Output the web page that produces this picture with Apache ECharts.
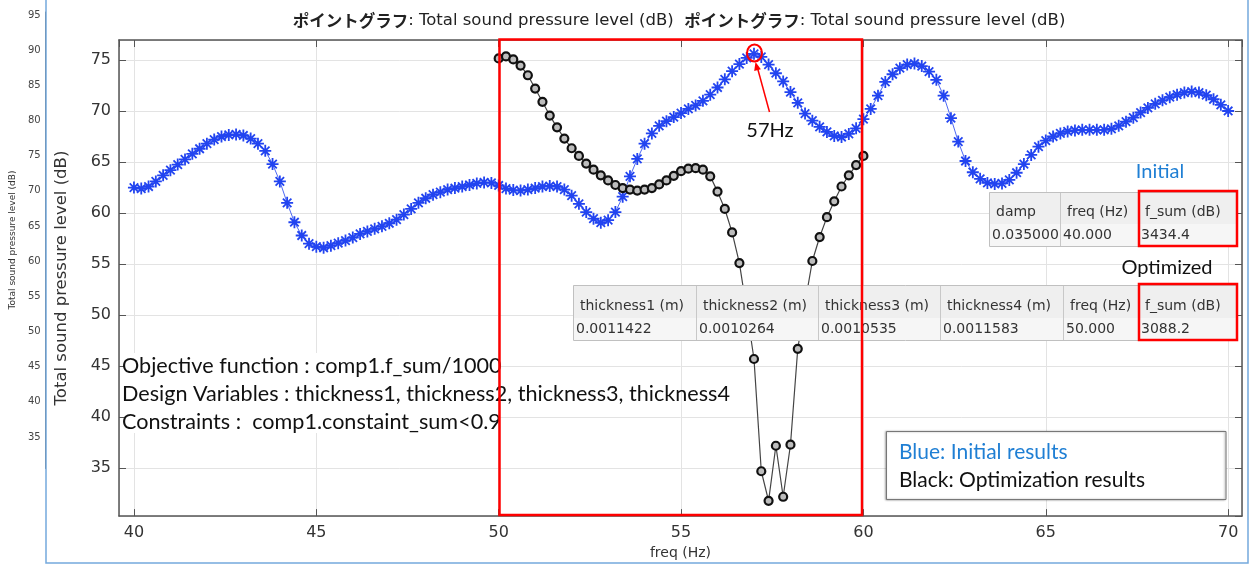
<!DOCTYPE html>
<html><head><meta charset="utf-8">
<script src="https://cdn.jsdelivr.net/npm/echarts@6/dist/echarts.min.js"></script>
<style>html,body{margin:0;padding:0;background:#fff}#c{width:1251px;height:565px}</style>
</head><body><div id="c"></div>
<script>
// ---------------- DATA ----------------
const blueFreq = [
40.0,40.2,40.4,40.6,40.8,41.0,41.2,41.4,41.6,41.8,
42.0,42.2,42.4,42.6,42.8,43.0,43.2,43.4,43.6,43.8,
44.0,44.2,44.4,44.6,44.8,45.0,45.2,45.4,45.6,45.8,
46.0,46.2,46.4,46.6,46.8,47.0,47.2,47.4,47.6,47.8,
48.0,48.2,48.4,48.6,48.8,49.0,49.2,49.4,49.6,49.8,
50.0,50.2,50.4,50.6,50.8,51.0,51.2,51.4,51.6,51.8,
52.0,52.2,52.4,52.6,52.8,53.0,53.2,53.4,53.6,53.8,
54.0,54.2,54.4,54.6,54.8,55.0,55.2,55.4,55.6,55.8,
56.0,56.2,56.4,56.6,56.8,57.0,57.2,57.4,57.6,57.8,
58.0,58.2,58.4,58.6,58.8,59.0,59.2,59.4,59.6,59.8,
60.0,60.2,60.4,60.6,60.8,61.0,61.2,61.4,61.6,61.8,
62.0,62.2,62.4,62.6,62.8,63.0,63.2,63.4,63.6,63.8,
64.0,64.2,64.4,64.6,64.8,65.0,65.2,65.4,65.6,65.8,
66.0,66.2,66.4,66.6,66.8,67.0,67.2,67.4,67.6,67.8,
68.0,68.2,68.4,68.6,68.8,69.0,69.2,69.4,69.6,69.8,
70.0];
const blueLevel = [
62.5,62.4,62.6,63.1,63.7,64.2,64.75,65.25,65.8,66.3,
66.8,67.2,67.5,67.65,67.7,67.6,67.3,66.8,66.1,64.8,
63.1,61.0,59.1,57.8,57.0,56.7,56.6,56.8,57.05,57.3,
57.6,57.95,58.2,58.45,58.7,59.0,59.35,59.85,60.4,61.0,
61.45,61.8,62.05,62.3,62.45,62.6,62.75,62.9,63.0,62.95,
62.7,62.4,62.25,62.2,62.3,62.45,62.6,62.65,62.6,62.3,
61.7,60.9,60.1,59.45,59.05,59.3,60.1,61.6,63.6,65.3,
66.8,67.8,68.55,69.0,69.4,69.8,70.2,70.55,71.0,71.6,
72.3,73.1,73.9,74.6,75.2,75.6,75.3,74.55,73.7,72.9,
71.85,70.8,69.75,69.05,68.45,67.95,67.55,67.45,67.75,68.3,
69.2,70.2,71.5,72.85,73.6,74.2,74.55,74.65,74.4,73.85,
73.05,71.5,69.3,67.0,65.1,64.0,63.35,62.95,62.85,62.9,
63.25,63.95,64.8,65.7,66.5,67.1,67.5,67.8,68.0,68.1,
68.15,68.15,68.15,68.15,68.25,68.55,68.95,69.35,69.85,70.3,
70.7,71.05,71.35,71.6,71.8,71.9,71.8,71.55,71.15,70.6,
70.0];
const optFreq = [
50.0,50.2,50.4,50.6,50.8,51.0,51.2,51.4,51.6,51.8,
52.0,52.2,52.4,52.6,52.8,53.0,53.2,53.4,53.6,53.8,
54.0,54.2,54.4,54.6,54.8,55.0,55.2,55.4,55.6,55.8,
56.0,56.2,56.4,56.6,56.8,57.0,57.2,57.4,57.6,57.8,
58.0,58.2,58.4,58.6,58.8,59.0,59.2,59.4,59.6,59.8,
60.0];
const optLevel = [
75.15,75.35,75.05,74.45,73.5,72.2,70.9,69.55,68.4,67.3,
66.35,65.6,64.85,64.25,63.7,63.2,62.75,62.45,62.3,62.2,
62.3,62.45,62.8,63.2,63.65,64.1,64.35,64.4,64.25,63.6,
62.1,60.4,58.1,55.1,50.5,45.7,34.7,31.8,37.2,32.2,
37.3,46.7,51.2,55.3,57.65,59.6,61.15,62.6,63.7,64.7,
65.6];
const initHeaders = ['damp', 'freq (Hz)', 'f_sum (dB)'];
const initValues  = ['0.035000', '40.000', '3434.4'];
const optHeaders  = ['thickness1 (m)', 'thickness2 (m)', 'thickness3 (m)', 'thickness4 (m)', 'freq (Hz)', 'f_sum (dB)'];
const optValues   = ['0.0011422', '0.0010264', '0.0010535', '0.0011583', '50.000', '3088.2'];
const noteLines = [
  'Objective function : comp1.f_sum/1000',
  'Design Variables : thickness1, thickness2, thickness3, thickness4',
  'Constraints :  comp1.constaint_sum<0.9'
];
const legendLines = ['Blue: Initial results', 'Black: Optimization results'];
const titleText = '{j|ポイントグラフ}: Total sound pressure level (dB)  {j|ポイントグラフ}: Total sound pressure level (dB)';
const yName = 'Total sound pressure level (dB)';
const xName = 'freq (Hz)';

// ---------------- STYLE ----------------
const FONT = '"DejaVu Sans", "Noto Sans CJK JP", sans-serif';
const CAL = 'Lato, "Open Sans", sans-serif';
const BLUE = '#2244f0';
const OFFICE_BLUE = '#1f7fd4';
const RED = '#ff0000';
const ASTER = 'path://M-1.5,-10L1.5,-10L1.5,10L-1.5,10Z M10,-1.5L10,1.5L-10,1.5L-10,-1.5Z M6.01,-8.13L8.13,-6.01L-6.01,8.13L-8.13,6.01Z M-8.13,-6.01L-6.01,-8.13L8.13,6.01L6.01,8.13Z';

function table(x, y, widths, headers, values, hH, vH, z) {
  const els = [];
  const total = widths.reduce((a, b) => a + b, 0);
  els.push({type:'rect', z:z, shape:{x:x, y:y, width:total, height:hH}, style:{fill:'#efefef'}});
  els.push({type:'rect', z:z, shape:{x:x, y:y+hH, width:total, height:vH}, style:{fill:'#f6f6f6'}});
  let cx = x;
  widths.forEach((w, i) => {
    if (i > 0) els.push({type:'line', z:z+1, shape:{x1:cx+0.5, y1:y, x2:cx+0.5, y2:y+hH+vH}, style:{stroke:'#c8c8c8', lineWidth:1}});
    els.push({type:'text', z:z+2, x:cx+7, y:y+hH-12, style:{text:headers[i], fill:'#333', fontSize:14, fontFamily:FONT, verticalAlign:'middle', align:'left'}});
    els.push({type:'text', z:z+2, x:cx+3, y:y+hH+11, style:{text:values[i], fill:'#333', fontSize:14, fontFamily:FONT, verticalAlign:'middle', align:'left'}});
    cx += w;
  });
  els.push({type:'rect', z:z+1, shape:{x:x+0.5, y:y+0.5, width:total, height:hH+vH}, style:{fill:'none', stroke:'#c0c0c0', lineWidth:1}});
  return els;
}

const graphics = [];
// background panel (occludes the chart behind)
graphics.push({type:'rect', z:1, shape:{x:46, y:-5, width:1202, height:568}, style:{fill:'#fff', stroke:'#74a9dd', lineWidth:1.5}});
// title
graphics.push({type:'text', z:5, x:679, y:21, style:{text:titleText, fontSize:16.5, fontFamily:FONT, fill:'#222', align:'center', verticalAlign:'middle',
  rich:{j:{fontFamily:'"Noto Sans CJK JP", sans-serif', fontWeight:'bold', fontSize:16.5, fill:'#222'}}}});
// note block
graphics.push({type:'rect', z:10, shape:{x:124, y:353, width:374, height:80}, style:{fill:'#fff'}});
noteLines.forEach((t, i) => graphics.push({type:'text', z:11, x:122, y:366 + i*28, style:{text:t, fontSize:21.6, fontFamily:CAL, fill:'#111', verticalAlign:'middle', align:'left'}}));
// tables
table(989, 192, [71, 78, 99], initHeaders, initValues, 32, 22, 12).forEach(e => graphics.push(e));
table(573, 285, [123, 122, 122, 123, 75, 99], optHeaders, optValues, 33, 22, 12).forEach(e => graphics.push(e));
graphics.push({type:'rect', z:20, shape:{x:1139, y:191, width:98, height:55}, style:{fill:'none', stroke:RED, lineWidth:2.5}});
graphics.push({type:'rect', z:20, shape:{x:1139, y:284, width:98, height:56}, style:{fill:'none', stroke:RED, lineWidth:2.5}});
graphics.push({type:'text', z:20, x:1160, y:172, style:{text:'Initial', fontSize:20, fontFamily:CAL, fill:OFFICE_BLUE, align:'center', verticalAlign:'middle'}});
graphics.push({type:'text', z:20, x:1167, y:268, style:{text:'Optimized', fontSize:20, fontFamily:CAL, fill:'#111', align:'center', verticalAlign:'middle'}});
// red region, circle, arrow
graphics.push({type:'rect', z:20, shape:{x:499.5, y:39.5, width:362.5, height:475.5}, style:{fill:'none', stroke:RED, lineWidth:2.5}});
graphics.push({type:'ellipse', z:20, shape:{cx:754.5, cy:53, rx:7.5, ry:8.5}, style:{fill:'none', stroke:RED, lineWidth:2}});
graphics.push({type:'line', z:20, shape:{x1:769.5, y1:112, x2:757.5, y2:68}, style:{stroke:RED, lineWidth:1.5}});
graphics.push({type:'polygon', z:20, shape:{points:[[755.5,62],[760.9,69.2],[754.2,71]]}, style:{fill:RED}});
graphics.push({type:'text', z:20, x:770, y:131, style:{text:'57Hz', fontSize:20, fontFamily:CAL, fill:'#111', align:'center', verticalAlign:'middle'}});
// legend box
graphics.push({type:'rect', z:20, shape:{x:886.5, y:431.5, width:339.5, height:68}, style:{fill:'#fff', stroke:'#777', lineWidth:1, shadowColor:'rgba(0,0,0,0.35)', shadowBlur:2, shadowOffsetX:-1, shadowOffsetY:0}});
graphics.push({type:'text', z:21, x:899, y:452, style:{text:legendLines[0], fontSize:21, fontFamily:CAL, fill:OFFICE_BLUE, verticalAlign:'middle', align:'left'}});
graphics.push({type:'text', z:21, x:899, y:480, style:{text:legendLines[1], fontSize:21, fontFamily:CAL, fill:'#111', verticalAlign:'middle', align:'left'}});

const frontAxisLine = {show:true, onZero:false, lineStyle:{color:'#555', width:1.5}};
const frontTick = {show:true, inside:true, length:7, lineStyle:{color:'#555', width:1}};

const option = {
  animation: false,
  textStyle: {fontFamily: FONT},
  grid: [
    {left:119, top:40, width:1123, height:477, show:false},
    {left:40, top:12, width:1100, height:456, show:false}
  ],
  xAxis: [
    {gridIndex:0, type:'value', min:39.59, max:70.38, minInterval:5, maxInterval:5, position:'bottom', z:2,
     axisLine:frontAxisLine, axisTick:frontTick,
     axisLabel:{showMinLabel:false, showMaxLabel:false, fontSize:16, color:'#333', margin:9, fontFamily:FONT},
     splitLine:{show:true, lineStyle:{color:'#e3e3e3', width:1}},
     name:xName, nameLocation:'middle', nameGap:27, nameTextStyle:{fontSize:14, color:'#333', fontFamily:FONT}},
    {gridIndex:0, type:'value', min:39.59, max:70.38, minInterval:5, maxInterval:5, position:'top', z:2,
     axisLine:frontAxisLine, axisTick:frontTick, axisLabel:{show:false}, splitLine:{show:false}},
    {gridIndex:1, type:'value', min:39.8, max:70.4, minInterval:5, maxInterval:5, position:'bottom', z:0,
     axisLine:{show:true, onZero:false, lineStyle:{color:'#666', width:1}}, axisTick:{show:false},
     axisLabel:{showMinLabel:false, showMaxLabel:false, fontSize:10, color:'#444', margin:5}, splitLine:{show:false}}
  ],
  yAxis: [
    {gridIndex:0, type:'value', min:30.306, max:76.956, minInterval:5, maxInterval:5, position:'left', z:2,
     axisLine:frontAxisLine, axisTick:frontTick,
     axisLabel:{showMinLabel:false, showMaxLabel:false, fontSize:16, color:'#333', margin:8, fontFamily:FONT},
     splitLine:{show:true, lineStyle:{color:'#e3e3e3', width:1}},
     name:yName, nameLocation:'middle', nameGap:49, nameTextStyle:{fontSize:16.5, color:'#333', fontFamily:FONT}},
    {gridIndex:0, type:'value', min:30.306, max:76.956, minInterval:5, maxInterval:5, position:'right', z:2,
     axisLine:frontAxisLine, axisTick:frontTick, axisLabel:{show:false}, splitLine:{show:false}},
    {gridIndex:1, type:'value', min:30.59, max:95.43, minInterval:5, maxInterval:5, position:'left', z:0,
     axisLine:{show:true, onZero:false, lineStyle:{color:'#666', width:1}},
     axisTick:{show:true, inside:true, length:4, lineStyle:{color:'#666'}},
     axisLabel:{showMinLabel:false, showMaxLabel:false, fontSize:10, color:'#444', margin:5},
     splitLine:{show:false},
     name:yName, nameLocation:'middle', nameGap:28, nameTextStyle:{fontSize:9, color:'#333'}}
  ],
  series: [
    {name:'Initial', type:'line', xAxisIndex:0, yAxisIndex:0, z:3,
     data: blueFreq.map((f, i) => [f, blueLevel[i]]),
     symbol: ASTER, symbolSize: 12, symbolKeepAspect: true,
     lineStyle:{color:BLUE, width:1, opacity:0.8}, itemStyle:{color:BLUE},
     emphasis:{disabled:true}},
    {name:'Optimized', type:'line', xAxisIndex:0, yAxisIndex:0, z:4,
     data: optFreq.map((f, i) => [f, optLevel[i]]),
     symbol:'circle', symbolSize:8,
     lineStyle:{color:'#444', width:1.2}, itemStyle:{color:'#bdbdbd', borderColor:'#111', borderWidth:2.2},
     emphasis:{disabled:true}}
  ],
  graphic: {elements: graphics}
};

const chart = echarts.init(document.getElementById('c'), null, {renderer:'canvas'});
chart.setOption(option);
</script>
</body></html>
